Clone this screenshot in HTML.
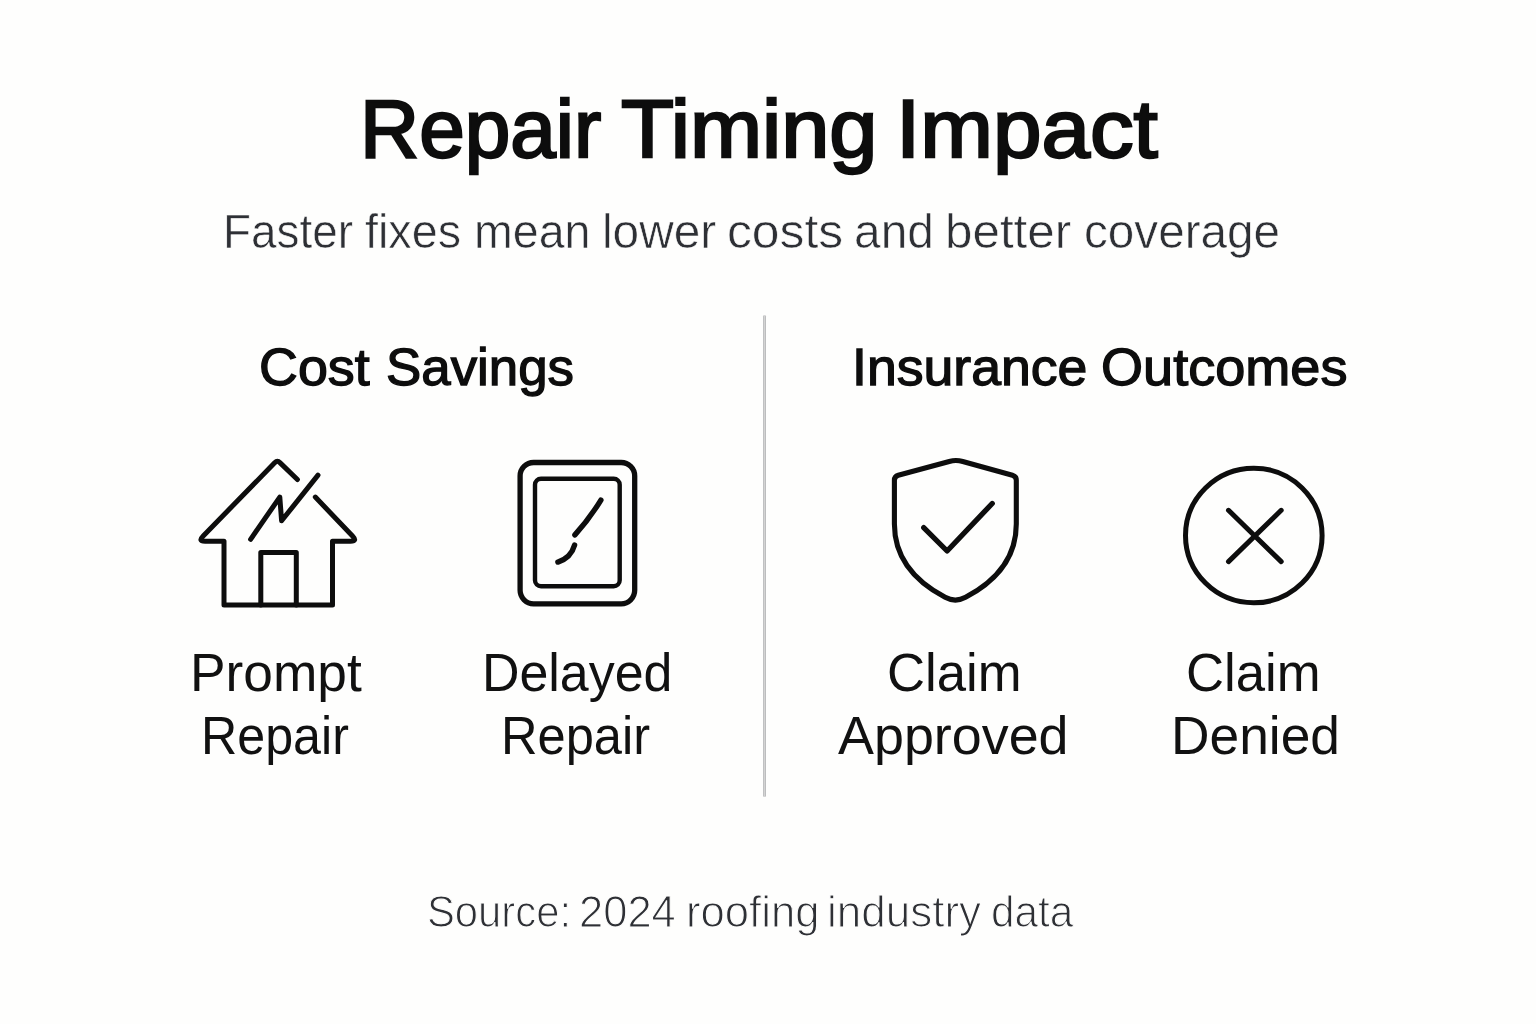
<!DOCTYPE html>
<html lang="en">
<head>
<meta charset="utf-8">
<title>Repair Timing Impact</title>
<style>
  html, body { margin: 0; padding: 0; }
  body {
    width: 1536px; height: 1024px; overflow: hidden; position: relative;
    background: #fefefd;
    font-family: "Liberation Sans", Arial, sans-serif;
    color: #0d0d0d;
  }
  /* every text block is a zero-size anchor at the page origin; words are placed absolutely */
  .t { position: absolute; left: 0; top: 0; margin: 0; font-weight: 400; font-size: 0; line-height: 0; }
  .w { position: absolute; white-space: nowrap; line-height: 1; transform-origin: 0 0; }
  #title { -webkit-text-stroke: 2.4px #0d0d0d; }
  #sub  { color: #2e3035; -webkit-text-stroke: 0.6px #fefefd; }
  #foot { color: #2e3035; -webkit-text-stroke: 1.1px #fefefd; }
  .h { -webkit-text-stroke: 1.3px #0d0d0d; }
  .l { color: #111; }

  #w0_0 { left: 359.51px; top: 88.51px; font-size: 81.2px; transform: scaleX(1.0087); }
  #w0_1 { left: 620.84px; top: 88.51px; font-size: 81.2px; transform: scaleX(1.0662); }
  #w0_2 { left: 895.61px; top: 88.51px; font-size: 81.2px; transform: scaleX(1.0746); }
  #w1_0 { left: 222.57px; top: 207.40px; font-size: 49.0px; transform: scaleX(0.9363); }
  #w1_1 { left: 364.80px; top: 207.40px; font-size: 49.0px; transform: scaleX(0.9534); }
  #w1_2 { left: 473.65px; top: 207.40px; font-size: 49.0px; transform: scaleX(0.9499); }
  #w1_3 { left: 601.56px; top: 207.40px; font-size: 49.0px; transform: scaleX(0.9751); }
  #w1_4 { left: 726.71px; top: 207.40px; font-size: 49.0px; transform: scaleX(1.0152); }
  #w1_5 { left: 854.38px; top: 207.40px; font-size: 49.0px; transform: scaleX(0.9771); }
  #w1_6 { left: 944.85px; top: 207.40px; font-size: 49.0px; transform: scaleX(1.0072); }
  #w1_7 { left: 1083.81px; top: 207.40px; font-size: 49.0px; transform: scaleX(0.9728); }
  #w2_0 { left: 258.92px; top: 341.51px; font-size: 51.9px; transform: scaleX(1.0378); }
  #w2_1 { left: 385.66px; top: 341.51px; font-size: 51.9px; transform: scaleX(1.0185); }
  #w3_0 { left: 851.82px; top: 341.69px; font-size: 51.9px; transform: scaleX(1.0329); }
  #w3_1 { left: 1101.18px; top: 341.69px; font-size: 51.9px; transform: scaleX(1.0422); }
  #w4_0 { left: 189.88px; top: 645.51px; font-size: 53.6px; transform: scaleX(0.9941); }
  #w5_0 { left: 200.84px; top: 708.81px; font-size: 53.6px; transform: scaleX(0.9369); }
  #w6_0 { left: 481.77px; top: 645.51px; font-size: 53.6px; transform: scaleX(0.9683); }
  #w7_0 { left: 501.44px; top: 708.81px; font-size: 53.6px; transform: scaleX(0.9444); }
  #w8_0 { left: 887.20px; top: 645.51px; font-size: 53.6px; transform: scaleX(0.9822); }
  #w9_0 { left: 838.32px; top: 709.21px; font-size: 53.6px; transform: scaleX(1.0050); }
  #w10_0 { left: 1186.10px; top: 645.51px; font-size: 53.6px; transform: scaleX(0.9826); }
  #w11_0 { left: 1171.09px; top: 708.71px; font-size: 53.6px; transform: scaleX(0.9947); }
  #w12_0 { left: 426.91px; top: 891.31px; font-size: 43.6px; transform: scaleX(0.9586); }
  #w12_1 { left: 578.91px; top: 891.31px; font-size: 43.6px; transform: scaleX(0.9980); }
  #w12_2 { left: 685.82px; top: 891.31px; font-size: 43.6px; transform: scaleX(1.0010); }
  #w12_3 { left: 826.88px; top: 891.31px; font-size: 43.6px; transform: scaleX(1.0091); }
  #w12_4 { left: 990.75px; top: 891.31px; font-size: 43.6px; transform: scaleX(0.9704); }
  #divider { position: absolute; left: 763px; top: 315px; width: 3px; height: 482px; border-radius: 1.5px; background: linear-gradient(to right, #c0c1c2 0 1px, #d4d4d4 1px 2px, #bcbdbe 2px 3px); }
  svg.icons { position: absolute; left: 0; top: 0; }
</style>
</head>
<body>
  <h1 class="t" id="title"><span class="w" id="w0_0">Repair</span> <span class="w" id="w0_1">Timing</span> <span class="w" id="w0_2">Impact</span></h1>
  <p class="t" id="sub"><span class="w" id="w1_0">Faster</span> <span class="w" id="w1_1">fixes</span> <span class="w" id="w1_2">mean</span> <span class="w" id="w1_3">lower</span> <span class="w" id="w1_4">costs</span> <span class="w" id="w1_5">and</span> <span class="w" id="w1_6">better</span> <span class="w" id="w1_7">coverage</span></p>

  <h2 class="t h" id="h1"><span class="w" id="w2_0">Cost</span> <span class="w" id="w2_1">Savings</span></h2>
  <h2 class="t h" id="h2"><span class="w" id="w3_0">Insurance</span> <span class="w" id="w3_1">Outcomes</span></h2>

  <div id="divider"></div>

  <svg class="icons" width="1536" height="1024" viewBox="0 0 1536 1024" fill="none" stroke="#0d0d0d" stroke-width="5" stroke-linecap="round" stroke-linejoin="round" aria-hidden="true">
    <!-- house with crack -->
    <g id="ico-house">
      <path d="M297.4 479.5 L279.9 462.6 Q277.4 459.7 274.9 462.6 L203.2 535.9 Q197.8 541.3 205 541.3 L224 541.3 L224 605 L332.5 605 L332.5 541.3 L350.5 541.3 Q357.7 541.3 352.5 535.9 L315.3 497.1"/>
      <path d="M260.8 605 L260.8 552.5 L296.3 552.5 L296.3 605"/>
      <path d="M250.6 539.3 L279.8 497.1 L281.6 520.8 L318 475.1"/>
    </g>
    <!-- cracked tablet / window -->
    <g id="ico-tablet">
      <rect x="520.1" y="462.5" width="114.6" height="141.3" rx="13.5" ry="13.5" stroke-width="5.3"/>
      <rect x="535" y="478.7" width="84.7" height="107.5" rx="6" ry="6" stroke-width="4.4"/>
      <path stroke-width="5.4" d="M600.9 500.1 Q590 518 574.9 534.9"/>
      <path stroke-width="5.4" d="M574.6 545.1 Q571 558 557.9 562.1"/>
    </g>
    <!-- shield check -->
    <g id="ico-shield">
      <path stroke-width="5.1" d="M894.4 480.3 Q894.4 476.3 898.26 475.25 L949.24 461.43 Q956 459.6 962.75 461.47 L1012.45 475.23 Q1016.3 476.3 1016.3 480.3 L1016.3 524 C1016.3 552.7 1002.76 577.68 965.55 597.3 Q955.35 602.9 945.15 597.3 C907.94 577.68 894.4 552.7 894.4 524 Z"/>
      <path stroke-width="5.3" d="M923.7 527.6 L947.1 551 L992.2 503.5"/>
    </g>
    <!-- circle x -->
    <g id="ico-x">
      <ellipse cx="1253.8" cy="535.5" rx="68.3" ry="67.3"/>
      <path d="M1228.5 510.3 L1281.2 561.6 M1281.2 510.3 L1228.5 561.6"/>
    </g>
  </svg>

  <div class="t l" id="l1"><span class="w" id="w4_0">Prompt</span> <span class="w" id="w5_0">Repair</span></div>
  <div class="t l" id="l2"><span class="w" id="w6_0">Delayed</span> <span class="w" id="w7_0">Repair</span></div>
  <div class="t l" id="l3"><span class="w" id="w8_0">Claim</span> <span class="w" id="w9_0">Approved</span></div>
  <div class="t l" id="l4"><span class="w" id="w10_0">Claim</span> <span class="w" id="w11_0">Denied</span></div>

  <p class="t" id="foot"><span class="w" id="w12_0">Source:</span> <span class="w" id="w12_1">2024</span> <span class="w" id="w12_2">roofing</span> <span class="w" id="w12_3">industry</span> <span class="w" id="w12_4">data</span></p>
</body>
</html>
